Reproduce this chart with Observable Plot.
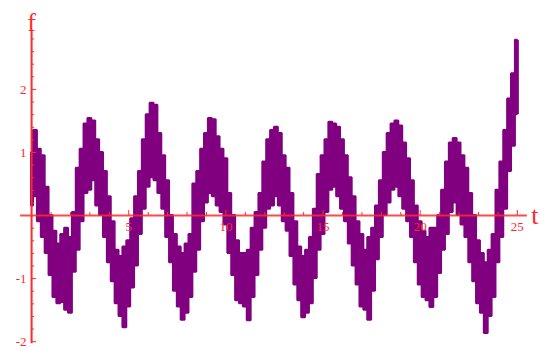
<!DOCTYPE html>
<html>
<head>
<meta charset="utf-8">
<script src="https://cdn.jsdelivr.net/npm/d3@7"></script>
<script src="https://cdn.jsdelivr.net/npm/@observablehq/plot@0.6"></script>
<style>
  html, body { margin: 0; padding: 0; background: #ffffff; }
  #chart svg { display: block; }
</style>
</head>
<body>
<div id="chart"></div>
<script>
// Sampling of the signal: t = 0, 0.2, ..., 25
const tStart = 0;
const tStep = 0.2;

// Lower edge of the noisy band (one row = 2 units of t)
const fLow = [
  0.15, 0.3, -0.1, -0.35, -0.6, -0.95, -1.3, -1.4, -1.38, -1.5,
  -1.55, -0.9, -0.55, -0.1, 0.35, 0.4, 0.55, 0.15, 0.0, -0.35,
  -0.75, -1.05, -1.4, -1.6, -1.78, -1.45, -1.15, -0.8, -0.3, 0.1,
  0.45, 0.6, 0.55, 0.35, 0.1, -0.35, -0.75, -1.2, -1.45, -1.66,
  -1.55, -1.3, -0.9, -0.55, -0.1, 0.2, 0.35, 0.3, 0.15, 0.05,
  -0.15, -0.6, -0.95, -1.35, -1.4, -1.45, -1.67, -1.3, -0.95, -0.55,
  -0.2, 0.1, 0.15, 0.3, 0.15, -0.1, -0.25, -0.65, -1.1, -1.35,
  -1.62, -1.55, -1.4, -1.0, -0.55, -0.3, 0.05, 0.4, 0.45, 0.3,
  0.1, -0.1, -0.45, -0.8, -1.1, -1.45, -1.5, -1.66, -1.2, -0.7,
  -0.35, 0.0, 0.2, 0.4, 0.45, 0.3, 0.1, -0.1, -0.35, -0.75,
  -1.1, -1.3, -1.35, -1.46, -1.3, -0.92, -0.55, -0.3, 0.05, 0.2,
  0.0, -0.15, -0.35, -0.75, -1.05, -1.4, -1.55, -1.87, -1.6, -1.3,
  -0.75, -0.35, 0.1, 0.7, 1.1, 1.6
];

// Upper edge of the noisy band
const fHigh = [
  1.0, 1.35, 1.05, 0.95, 0.45, 0.0, -0.25, -0.45, -0.3, -0.2,
  -0.35, 0.05, 0.75, 1.05, 1.45, 1.54, 1.5, 1.2, 1.0, 0.7,
  0.3, -0.1, -0.55, -0.65, -0.5, -0.4, -0.05, 0.3, 0.7, 1.2,
  1.6, 1.78, 1.75, 1.3, 0.95, 0.55, 0.0, -0.3, -0.5, -0.6,
  -0.45, -0.3, 0.5, 0.7, 1.05, 1.3, 1.54, 1.52, 1.25, 1.05,
  0.9, 0.35, 0.0, -0.4, -0.6, -0.6, -0.55, -0.2, 0.05, 0.35,
  0.85, 1.2, 1.35, 1.4, 1.3, 0.95, 0.75, 0.35, -0.1, -0.5,
  -0.65, -0.55, -0.35, 0.1, 0.65, 0.95, 1.2, 1.48, 1.45, 1.4,
  1.2, 0.95, 0.6, 0.3, -0.1, -0.3, -0.55, -0.35, -0.2, 0.15,
  0.55, 1.0, 1.3, 1.45, 1.5, 1.42, 1.15, 0.9, 0.55, 0.15,
  -0.1, -0.25, -0.35, -0.2, -0.2, 0.0, 0.4, 0.85, 1.15, 1.22,
  1.15, 0.95, 0.75, 0.35, 0.0, -0.4, -0.6, -0.75, -0.55, -0.3,
  0.4, 0.85, 1.35, 1.85, 2.25, 2.78
];

// Ticks and tick labels
const xMinorTicks = [1,2,3,4,6,7,8,9,11,12,13,14,16,17,18,19,21,22,23,24];
const xMajorTicks = [5, 10, 15, 20, 25];
const xTickLabels = ["5", "10", "15", "20", "25"];
const yMinorTicks = [-1.8,-1.6,-1.4,-1.2,-0.8,-0.6,-0.4,-0.2,0.2,0.4,0.6,0.8,1.2,1.4,1.6,1.8,2.2,2.4,2.6,2.8];
const yMajorTicks = [-2, -1, 1, 2];
const yTickLabels = ["-2", "-1", "1", "2"];
const xAxisLabel = "t";
const yAxisLabel = "f";

// Build table
const band = fLow.map((lo, i) => ({t: tStart + i * tStep, lo, hi: fHigh[i]}));

const red = "#ff2a2a";
const purple = "#800080";
const serif = "'Liberation Serif', 'DejaVu Serif', serif";
const W = 546, H = 350;
const xDomain = [-1.6, 26.5];
const yDomain = [-2.14, 3.41];
const xPerPx = (xDomain[1] - xDomain[0]) / W;
const yPerPx = (yDomain[1] - yDomain[0]) / H;

const chart = Plot.plot({
  width: W,
  height: H,
  margin: 0,
  x: {domain: xDomain, axis: null},
  y: {domain: yDomain, axis: null},
  marks: [
    // the noisy signal: solid band with vertical-stroke edges
    Plot.areaY(band, {x: "t", y1: "lo", y2: "hi", curve: "step", fill: purple, stroke: purple, strokeWidth: 2, strokeLinejoin: "miter"}),
    Plot.ruleX(band, {x: "t", y1: "lo", y2: "hi", stroke: purple, strokeWidth: 3}),
    // axes
    Plot.ruleY([0], {x1: -11 * xPerPx, x2: 25 + 10 * xPerPx, stroke: red, strokeWidth: 2, strokeOpacity: 0.85}),
    Plot.ruleX([0], {y1: -2 - 2 * yPerPx, y2: 2.8 + 9 * yPerPx, stroke: red, strokeWidth: 2}),
    // x ticks (pointing up)
    Plot.ruleX(xMinorTicks, {x: d => d, y1: 0, y2: 3 * yPerPx, stroke: red, strokeWidth: 1}),
    Plot.ruleX(xMajorTicks, {x: d => d, y1: 0, y2: 5 * yPerPx, stroke: red, strokeWidth: 1}),
    // y ticks (pointing right)
    Plot.ruleY(yMinorTicks, {y: d => d, x1: 0, x2: 3 * xPerPx, stroke: red, strokeWidth: 1}),
    Plot.ruleY(yMajorTicks, {y: d => d, x1: 0, x2: 5 * xPerPx, stroke: red, strokeWidth: 1}),
    // tick labels
    Plot.text(xMajorTicks, {x: d => d, y: 0, dy: 11, text: (d, i) => xTickLabels[i], fill: red, fontFamily: serif, fontSize: 13}),
    Plot.text(yMajorTicks, {y: d => d, x: 0, dx: -5, textAnchor: "end", text: (d, i) => yTickLabels[i], fill: red, fontFamily: serif, fontSize: 13}),
    // axis labels
    Plot.text([yAxisLabel], {x: [0], frameAnchor: "top", dy: 12, text: d => d, fill: red, fontFamily: serif, fontSize: 26}),
    Plot.text([xAxisLabel], {y: [0], frameAnchor: "right", dx: -8, text: d => d, fill: red, fontFamily: serif, fontSize: 26})
  ]
});

document.getElementById("chart").appendChild(chart);
</script>
</body>
</html>
